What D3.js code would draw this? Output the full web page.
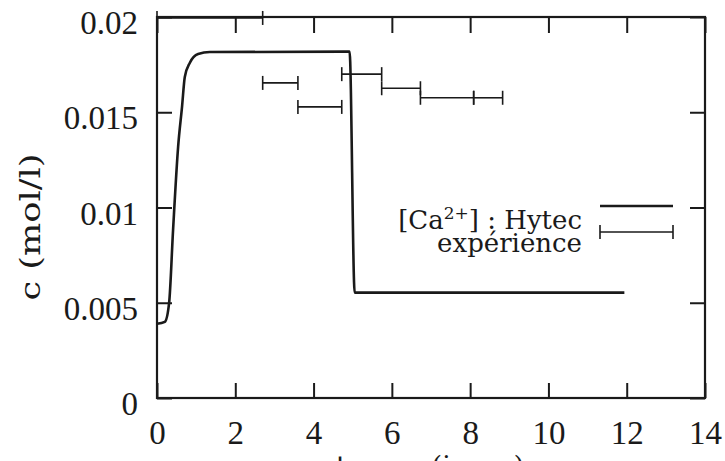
<!DOCTYPE html>
<html><head><meta charset="utf-8">
<script src="https://cdn.jsdelivr.net/npm/d3@7"></script>
<style>
html,body{margin:0;padding:0;background:#fff;}
svg{display:block;}
</style></head>
<body>
<svg id="chart" width="725" height="461"></svg>
<script>
// ---- data ----
const xTicks = [0, 2, 4, 6, 8, 10, 12, 14];
const yTicks = [0, 0.005, 0.01, 0.015, 0.02];
const yTickLabels = ["0", "0.005", "0.01", "0.015", "0.02"];

// simulated [Ca2+] (Hytec)
const simX = [0, 0.2, 0.31, 0.41, 0.54, 0.64, 0.71, 0.84, 1.05, 1.35, 4.92, 5.05, 11.94];
const simY = [0.0039, 0.0040, 0.0050, 0.0088, 0.0132, 0.0153, 0.01685, 0.0176, 0.01806, 0.01816, 0.01818, 0.00553, 0.00553];

// experimental horizontal error bars
const expXLow  = [0, 2.70, 3.60, 4.72, 5.74, 6.73, 8.09];
const expXHigh = [2.70, 3.60, 4.72, 5.74, 6.73, 8.09, 8.83];
const expY     = [0.01995, 0.01654, 0.01528, 0.0170, 0.01626, 0.01576, 0.01576];

const yLabel = "c (mol/l)";
const xLabel = "temps (jours)";

// ---- layout ----
const svg = d3.select("#chart");
const L = 157, R = 705, T = 17, B = 398;
const ink = "#1a1a1a";
const x = d3.scaleLinear().domain([0, 14]).range([L, R]);
const y = d3.scaleLinear().domain([0, 0.02]).range([B, T]);
const tickFont = "'Liberation Serif', 'Times New Roman', serif";
const textFont = "'DejaVu Serif', serif";

// axes (ticks pointing inward)
const gB = svg.append("g").attr("transform", `translate(0,${B})`)
  .call(d3.axisBottom(x).tickValues(xTicks).tickFormat(d3.format("d")).tickSize(-15).tickPadding(24));
const gT = svg.append("g").attr("transform", `translate(0,${T})`)
  .call(d3.axisTop(x).tickValues(xTicks).tickFormat("").tickSize(-16));
const gL = svg.append("g").attr("transform", `translate(${L},0)`)
  .call(d3.axisLeft(y).tickValues(yTicks).tickFormat((d, i) => yTickLabels[i]).tickSize(-15).tickPadding(19));
const gR = svg.append("g").attr("transform", `translate(${R},0)`)
  .call(d3.axisRight(y).tickValues(yTicks).tickFormat("").tickSize(-15));

[gB, gT, gL, gR].forEach(g => {
  g.select(".domain").remove();
  g.selectAll(".tick line").attr("stroke", ink).attr("stroke-width", 2);
  g.selectAll("text").attr("fill", ink).style("font-family", tickFont).style("font-size", "33px");
});
gL.selectAll("text").attr("dy", "0.5em");
gB.selectAll("text").attr("dy", "0.68em");

// frame
svg.append("rect").attr("x", L).attr("y", T).attr("width", R - L).attr("height", B - T)
  .attr("fill", "none").attr("stroke", ink).attr("stroke-width", 2.2);

// simulated curve
const simData = simX.map((v, i) => [v, simY[i]]);
svg.append("path").datum(simData)
  .attr("d", d3.line().x(d => x(d[0])).y(d => y(d[1])).curve(d3.curveMonotoneX))
  .attr("fill", "none").attr("stroke", ink).attr("stroke-width", 2.6).attr("stroke-linejoin", "round");

// error bars
const cap = 7;
const expData = expY.map((v, i) => ({lo: expXLow[i], hi: expXHigh[i], y: v}));
const eb = svg.append("g").attr("stroke", ink).attr("stroke-width", 1.6).attr("fill", "none");
expData.forEach(d => {
  eb.append("line").attr("x1", x(d.lo)).attr("x2", x(d.hi)).attr("y1", y(d.y)).attr("y2", y(d.y));
  eb.append("line").attr("x1", x(d.lo)).attr("x2", x(d.lo)).attr("y1", y(d.y) - cap).attr("y2", y(d.y) + cap);
  eb.append("line").attr("x1", x(d.hi)).attr("x2", x(d.hi)).attr("y1", y(d.y) - cap).attr("y2", y(d.y) + cap);
});

// legend
const lg = svg.append("g").style("font-family", textFont).attr("fill", ink);
const t1 = lg.append("text").attr("x", 582).attr("y", 229).attr("text-anchor", "end").style("font-size", "26px");
t1.append("tspan").text("[Ca");
t1.append("tspan").attr("dy", -10).style("font-size", "17px").text("2+");
t1.append("tspan").attr("dy", 10).text("] : Hytec");
lg.append("text").attr("x", 582).attr("y", 252).attr("text-anchor", "end").style("font-size", "26px").text("expérience");
svg.append("line").attr("x1", 600).attr("x2", 673).attr("y1", 206).attr("y2", 206)
  .attr("stroke", ink).attr("stroke-width", 2.6);
const ly = 232;
svg.append("line").attr("x1", 600).attr("x2", 673).attr("y1", ly).attr("y2", ly).attr("stroke", ink).attr("stroke-width", 1.6);
svg.append("line").attr("x1", 600).attr("x2", 600).attr("y1", ly - cap).attr("y2", ly + cap).attr("stroke", ink).attr("stroke-width", 1.6);
svg.append("line").attr("x1", 673).attr("x2", 673).attr("y1", ly - cap).attr("y2", ly + cap).attr("stroke", ink).attr("stroke-width", 1.6);

// axis labels
svg.append("text").attr("transform", `translate(40,227) rotate(-90)`).attr("text-anchor", "middle")
  .style("font-family", textFont).style("font-size", "28px").attr("fill", ink)
  .attr("textLength", 147).attr("lengthAdjust", "spacingAndGlyphs").text(yLabel);
svg.append("text").attr("x", 430).attr("y", 476).attr("text-anchor", "middle")
  .style("font-family", textFont).style("font-size", "28px").attr("fill", ink).text(xLabel);
</script>
</body></html>
